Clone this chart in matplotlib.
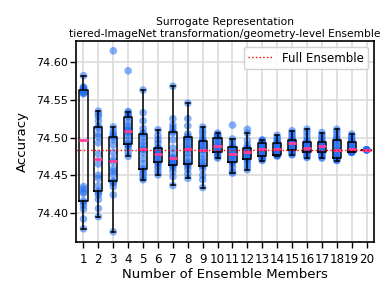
import numpy as np
import matplotlib
matplotlib.use("Agg")
import matplotlib.pyplot as plt

# accuracy of 20 sampled ensembles for each ensemble size
members = list(range(1, 21))

acc_1 = [74.379, 74.392, 74.405, 74.410, 74.414, 74.416, 74.426, 74.428, 74.432, 74.435,
         74.558, 74.559, 74.560, 74.561, 74.562, 74.564, 74.565, 74.566, 74.567, 74.582]
acc_2 = [74.395, 74.406, 74.418, 74.424, 74.427, 74.429, 74.436, 74.446, 74.450, 74.465,
         74.478, 74.493, 74.501, 74.505, 74.513, 74.515, 74.522, 74.528, 74.531, 74.535]
acc_3 = [74.375, 74.424, 74.435, 74.440, 74.441, 74.442, 74.4505, 74.455, 74.459, 74.468,
         74.471, 74.480, 74.490, 74.497, 74.501, 74.502, 74.505, 74.508, 74.514, 74.615]
acc_4 = [74.475, 74.480, 74.486, 74.489, 74.491, 74.492, 74.497, 74.502, 74.5066, 74.508,
         74.510, 74.511, 74.5155, 74.520, 74.527, 74.529, 74.531, 74.533, 74.5345, 74.5885]
acc_5 = [74.444, 74.446, 74.450, 74.453, 74.457, 74.4585, 74.465, 74.472, 74.480, 74.484,
         74.485, 74.490, 74.494, 74.500, 74.505, 74.506, 74.512, 74.522, 74.533, 74.563]
acc_6 = [74.4505, 74.455, 74.4594, 74.463, 74.4665, 74.4672, 74.470, 74.473, 74.476, 74.478,
         74.479, 74.480, 74.482, 74.484, 74.4858, 74.4865, 74.4926, 74.497, 74.503, 74.5102]
acc_7 = [74.4364, 74.448, 74.455, 74.460, 74.463, 74.4636, 74.465, 74.468, 74.470, 74.472,
         74.4734, 74.479, 74.486, 74.497, 74.5065, 74.508, 74.5124, 74.5168, 74.525, 74.568]
acc_8 = [74.4461, 74.452, 74.458, 74.462, 74.4648, 74.4655, 74.468, 74.474, 74.479, 74.484,
         74.486, 74.489, 74.493, 74.497, 74.500, 74.5015, 74.505, 74.5155, 74.525, 74.5456]
acc_9 = [74.4337, 74.444, 74.450, 74.458, 74.4625, 74.463, 74.468, 74.472, 74.478, 74.483,
         74.4845, 74.487, 74.490, 74.493, 74.4958, 74.4965, 74.500, 74.505, 74.509, 74.5138]
acc_10 = [74.4727, 74.4745, 74.477, 74.479, 74.4803, 74.4808, 74.483, 74.485, 74.487, 74.4885,
          74.4895, 74.491, 74.494, 74.497, 74.4998, 74.5005, 74.502, 74.503, 74.504, 74.5058]
acc_11 = [74.4528, 74.4545, 74.460, 74.465, 74.4678, 74.4683, 74.471, 74.474, 74.476, 74.4775,
          74.4785, 74.480, 74.482, 74.485, 74.4868, 74.4875, 74.490, 74.494, 74.498, 74.5165]
acc_12 = [74.4572, 74.461, 74.465, 74.469, 74.4718, 74.4722, 74.475, 74.477, 74.479, 74.4805,
          74.4815, 74.482, 74.4835, 74.485, 74.4858, 74.4866, 74.490, 74.496, 74.5058, 74.511]
acc_13 = [74.4695, 74.471, 74.4725, 74.474, 74.4747, 74.4750, 74.477, 74.480, 74.482, 74.484,
          74.4852, 74.487, 74.489, 74.491, 74.4925, 74.4930, 74.494, 74.495, 74.496, 74.497]
acc_14 = [74.4755, 74.476, 74.4765, 74.4768, 74.4769, 74.4771, 74.479, 74.481, 74.483, 74.4845,
          74.4855, 74.487, 74.489, 74.491, 74.4925, 74.4928, 74.495, 74.497, 74.4995, 74.503]
acc_15 = [74.477, 74.478, 74.480, 74.482, 74.4835, 74.4838, 74.486, 74.488, 74.490, 74.492,
          74.4932, 74.494, 74.495, 74.496, 74.4968, 74.4975, 74.500, 74.503, 74.506, 74.509]
acc_16 = [74.4735, 74.4745, 74.477, 74.479, 74.4808, 74.4812, 74.482, 74.483, 74.485, 74.4857,
          74.4863, 74.488, 74.490, 74.492, 74.4937, 74.4945, 74.497, 74.502, 74.507, 74.511]
acc_17 = [74.4727, 74.474, 74.4765, 74.478, 74.4798, 74.4803, 74.483, 74.485, 74.487, 74.4885,
          74.4895, 74.4905, 74.491, 74.492, 74.4937, 74.4945, 74.497, 74.500, 74.503, 74.5066]
acc_18 = [74.4695, 74.470, 74.471, 74.472, 74.4725, 74.4729, 74.475, 74.478, 74.481, 74.4832,
          74.4842, 74.487, 74.490, 74.494, 74.4968, 74.4975, 74.500, 74.504, 74.508, 74.511]
acc_19 = [74.4803, 74.4805, 74.4807, 74.4808, 74.4809, 74.4810, 74.482, 74.4835, 74.484, 74.485,
          74.4858, 74.487, 74.489, 74.4915, 74.4945, 74.4950, 74.497, 74.499, 74.502, 74.5045]
acc_20 = [74.4837, 74.4837, 74.4837, 74.4837, 74.4837]

full_ensemble = 74.4837

accs = [acc_1, acc_2, acc_3, acc_4, acc_5, acc_6, acc_7, acc_8, acc_9, acc_10,
        acc_11, acc_12, acc_13, acc_14, acc_15, acc_16, acc_17, acc_18, acc_19, acc_20]

fig = plt.figure(figsize=(3.88, 2.95), dpi=100)
ax = fig.add_axes([0.196, 0.181, 0.768, 0.680])

ax.grid(True, color="#dcdcdc", linewidth=1.2, zorder=0)
ax.set_axisbelow(True)

for k, vals in zip(members, accs):
    ax.scatter([k] * len(vals), vals, s=30, color="#1f6ef5", alpha=0.55,
               edgecolors="none", zorder=2)

ax.boxplot(accs, positions=members, widths=0.55, showfliers=False,
           boxprops=dict(color="black", linewidth=1.1),
           whiskerprops=dict(color="black", linewidth=1.1),
           capprops=dict(color="black", linewidth=1.1),
           medianprops=dict(color="#ff3d9a", linewidth=2.0),
           zorder=3)

ax.axhline(full_ensemble, color="red", linestyle=":", linewidth=1.0,
           label="Full Ensemble", zorder=4)

ax.set_xlim(0.5, 20.5)
ax.set_ylim(74.362, 74.628)
ax.set_xticks(members)
ax.set_xticklabels([str(m) for m in members])
ax.set_yticks([74.40, 74.45, 74.50, 74.55, 74.60])
ax.set_yticklabels(["74.40", "74.45", "74.50", "74.55", "74.60"])
ax.tick_params(axis="y", labelsize=8, length=4, width=1.0, pad=2)
ax.tick_params(axis="x", labelsize=8.6, length=4, width=1.0, pad=4)
for sp in ax.spines.values():
    sp.set_linewidth(1.2)

ax.set_xlabel("Number of Ensemble Members", fontsize=9.5, labelpad=2)
ax.set_ylabel("Accuracy", fontsize=9.5, labelpad=5)
ax.set_title("Surrogate Representation\ntiered-ImageNet transformation/geometry-level Ensemble",
             fontsize=7.7, pad=3)
ax.legend(loc="upper right", fontsize=8.5, framealpha=0.9)

fig.savefig("out.png", dpi=100)
